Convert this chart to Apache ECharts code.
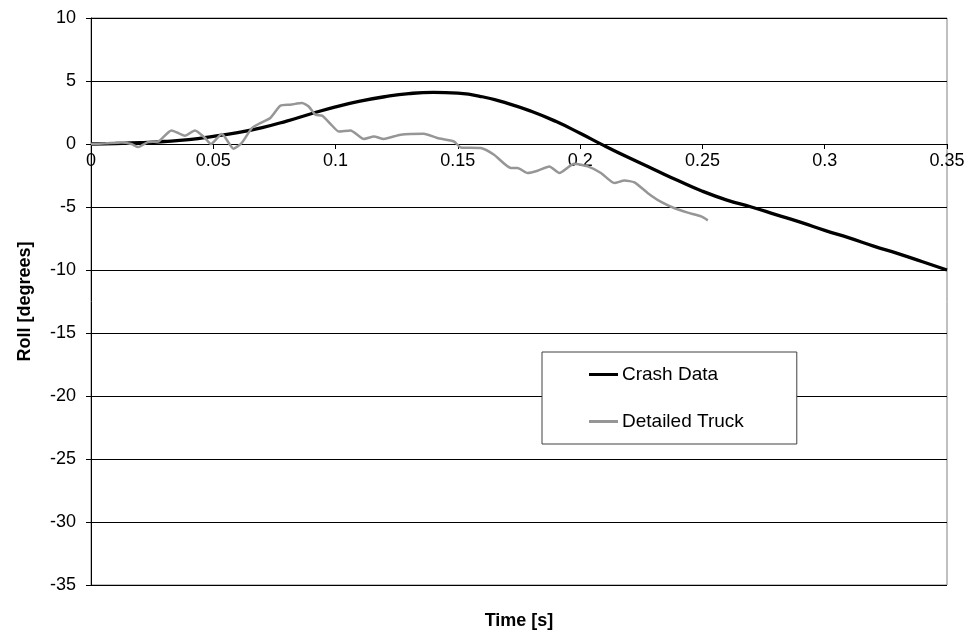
<!DOCTYPE html>
<html>
<head>
<meta charset="utf-8">
<script src="https://cdn.jsdelivr.net/npm/echarts@6/dist/echarts.min.js"></script>
<style>html,body{margin:0;padding:0;background:#fff;}#c{width:972px;height:639px;}</style>
</head>
<body>
<div id="c"></div>
<script>
var xTicks = [0, 0.05, 0.1, 0.15, 0.2, 0.25, 0.3, 0.35];
var yTicks = [-35, -30, -25, -20, -15, -10, -5, 0, 5, 10];

var crashTime = [0, 0.01, 0.02, 0.03, 0.04, 0.05, 0.06, 0.07, 0.08, 0.09, 0.1, 0.11, 0.12, 0.13, 0.14, 0.15, 0.16, 0.17, 0.18, 0.19, 0.2, 0.21, 0.22, 0.23, 0.24, 0.25, 0.26, 0.27, 0.28, 0.29, 0.3, 0.31, 0.32, 0.33, 0.34, 0.35];
var crashRoll = [0, 0.04, 0.1, 0.2, 0.35, 0.6, 0.9, 1.3, 1.82, 2.4, 2.95, 3.4, 3.75, 4.0, 4.1, 4.03, 3.75, 3.25, 2.6, 1.8, 0.85, -0.15, -1.1, -2.0, -2.9, -3.75, -4.45, -5.0, -5.6, -6.2, -6.85, -7.45, -8.1, -8.7, -9.35, -10.0];

var truckTime = [0, 0.006, 0.0124, 0.0165, 0.0193, 0.0233, 0.0275, 0.0329, 0.0384, 0.0425, 0.0465, 0.049, 0.0535, 0.0583, 0.0617, 0.0658, 0.0692, 0.0733, 0.0774, 0.0815, 0.0863, 0.089, 0.0918, 0.0945, 0.0979, 0.1013, 0.1061, 0.1116, 0.1157, 0.1197, 0.1266, 0.1361, 0.1416, 0.1484, 0.1512, 0.1594, 0.1648, 0.1717, 0.1744, 0.1785, 0.1826, 0.1874, 0.1915, 0.1976, 0.2031, 0.2085, 0.214, 0.2181, 0.2222, 0.2277, 0.2331, 0.2386, 0.244, 0.2495, 0.2522];
var truckRoll = [0, 0.05, 0.12, 0.0, -0.24, 0.15, 0.2, 1.08, 0.66, 1.08, 0.5, 0.0, 0.8, -0.37, 0.1, 1.27, 1.66, 2.06, 3.04, 3.12, 3.25, 2.98, 2.33, 2.25, 1.6, 1.0, 1.08, 0.4, 0.6, 0.4, 0.74, 0.82, 0.47, 0.2, -0.27, -0.32, -0.85, -1.9, -1.9, -2.3, -2.12, -1.78, -2.3, -1.56, -1.78, -2.3, -3.1, -2.9, -3.05, -3.9, -4.6, -5.1, -5.45, -5.75, -6.06];

function pairs(xs, ys) { return xs.map(function (x, i) { return [x, ys[i]]; }); }

var font = '"Liberation Sans", Arial, sans-serif';
var chart = echarts.init(document.getElementById('c'), null, {renderer: 'canvas'});
chart.setOption({
  animation: false,
  backgroundColor: '#fff',
  grid: {left: 91, right: 25, top: 18, bottom: 54, containLabel: false, outerBoundsMode: 'none',
    show: true, borderColor: '#808080', borderWidth: 1, backgroundColor: 'transparent'},
  xAxis: {
    type: 'value', min: xTicks[0], max: xTicks[xTicks.length - 1], interval: 0.05,
    offset: -441,
    name: 'Time [s]', nameLocation: 'middle', nameGap: 468,
    nameTextStyle: {fontFamily: font, fontWeight: 'bold', fontSize: 18, color: '#000'},
    axisLine: {onZero: false, lineStyle: {color: '#000', width: 1}},
    axisTick: {show: true, length: 5, lineStyle: {color: '#000'}},
    axisLabel: {fontFamily: font, fontSize: 18, color: '#000', margin: 8, showMinLabel: true, showMaxLabel: true,
      formatter: function (v) { return String(Math.round(v * 100) / 100); }},
    splitLine: {show: false}
  },
  yAxis: {
    type: 'value', min: yTicks[0], max: yTicks[yTicks.length - 1], interval: 5,
    name: 'Roll [degrees]', nameLocation: 'middle', nameGap: 57, nameRotate: 90,
    nameTextStyle: {fontFamily: font, fontWeight: 'bold', fontSize: 18, color: '#000'},
    axisLine: {show: true, onZero: false, lineStyle: {color: '#000', width: 1}},
    axisTick: {show: true, length: 5, lineStyle: {color: '#000'}},
    axisLabel: {fontFamily: font, fontSize: 18, color: '#000', margin: 15},
    splitLine: {show: true, lineStyle: {color: '#000', width: 1}}
  },
  legend: {
    orient: 'vertical', left: 542, top: 352,
    padding: [12, 53, 12, 47], itemGap: 26,
    backgroundColor: '#fff', borderColor: '#404040', borderWidth: 1,
    itemWidth: 29, itemHeight: 3, icon: 'rect',
    textStyle: {fontFamily: font, fontSize: 19, color: '#000', padding: [0, 0, 0, -1], lineHeight: 21},
    data: ['Crash Data', 'Detailed Truck']
  },
  series: [
    {name: 'Crash Data', type: 'line', data: pairs(crashTime, crashRoll), showSymbol: false, symbol: 'none', smooth: 0.5,
      lineStyle: {color: '#000', width: 3.3}, itemStyle: {color: '#000'}, z: 3},
    {name: 'Detailed Truck', type: 'line', data: pairs(truckTime, truckRoll), showSymbol: false, symbol: 'none', smooth: 0.2,
      lineStyle: {color: '#969696', width: 2.5}, itemStyle: {color: '#969696'}, z: 4}
  ]
});
</script>
</body>
</html>
